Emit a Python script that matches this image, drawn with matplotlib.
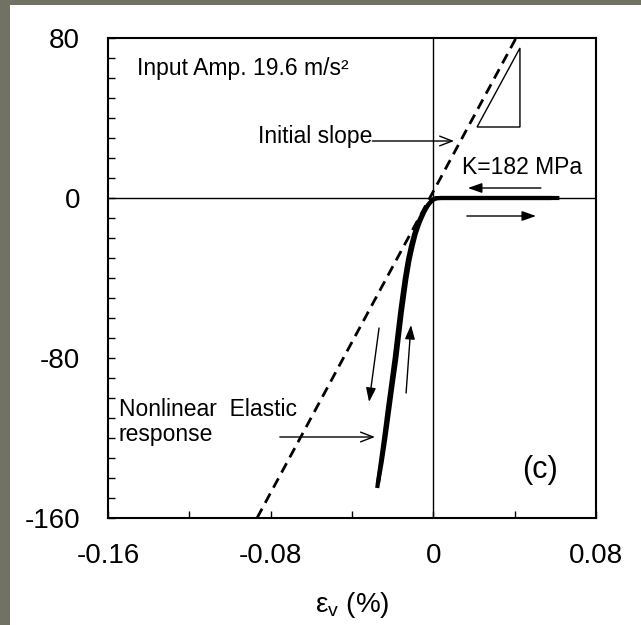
import matplotlib
matplotlib.use("Agg")
import matplotlib.pyplot as plt
from matplotlib.patches import Rectangle, Polygon

plt.rcParams['font.family'] = ['Liberation Sans', 'DejaVu Sans']
plt.rcParams['mathtext.fontset'] = 'custom'
plt.rcParams['mathtext.rm'] = 'Liberation Sans'
plt.rcParams['mathtext.it'] = 'Liberation Sans:italic'

# ---- data ----
# loading branch (from positive strain side, down to compression)
load_x = [0.062, 0.03, 0.01, 0.004, 0.002, 0.0008, -0.0002, -0.0012, -0.0024, -0.0037,
          -0.0050, -0.0064, -0.0079, -0.0094, -0.0110, -0.0125, -0.0140, -0.0151,
          -0.0163, -0.0176, -0.0190, -0.0207, -0.0223, -0.0242, -0.0258, -0.0276]
load_y = [0, 0, 0, 0, -0.1, -0.4, -1.0, -1.9, -3.2, -5, -7.3, -10, -13.5, -18, -24,
          -31, -40, -48, -57, -68, -80, -93, -105, -120, -132, -145]
# unloading branch
unload_x = [-0.0273, -0.0254, -0.0236, -0.0216, -0.0200, -0.0182, -0.0168, -0.0155,
            -0.0143, -0.0132, -0.0117, -0.0102, -0.0087, -0.0072, -0.0058, -0.0046,
            -0.0034, -0.0023, -0.0013, -0.0005, 0.0003, 0.0012, 0.003, 0.01, 0.03, 0.058]
unload_y = [-143, -132, -120, -105, -93, -80, -68, -57, -48, -40, -31, -24, -18, -13.5,
            -10, -7.3, -5, -3.2, -1.9, -1.0, -0.4, -0.1, 0, 0, 0, 0]
# initial slope line
slope_x = [-0.0867, 0.0407]
slope_y = [-160, 80]
# slope triangle
tri_x = [0.0426, 0.0215, 0.0426]
tri_y = [75, 35.5, 35.5]

x_ticks = [-0.16, -0.08, 0, 0.08]
x_ticklabels = ['-0.16', '-0.08', '0', '0.08']
y_ticks = [80, 0, -80, -160]
y_ticklabels = ['80', '0', '-80', '-160']

W, H = 641, 625
fig = plt.figure(figsize=(W / 100, H / 100), dpi=100)
fig.patch.set_facecolor('#727264')
bg = Rectangle((10 / W, 0), 1 - 10 / W, 1 - 5 / H,
               transform=fig.transFigure, facecolor='white',
               edgecolor='none', zorder=-10)
fig.patches.append(bg)

ax = fig.add_axes([108 / W, 1 - 518 / H, 488 / W, 480 / H])
ax.set_zorder(1)
ax.set_facecolor('white')
ax.set_xlim(-0.16, 0.08)
ax.set_ylim(-160, 80)

ax.axhline(0, color='black', lw=1.0, zorder=1)
ax.axvline(0, color='black', lw=1.0, zorder=1)

ax.plot(slope_x, slope_y, color='black', lw=2.0, dashes=(3.8, 2.4), zorder=3)
ax.plot(load_x, load_y, color='black', lw=3.0, solid_capstyle='butt',
        solid_joinstyle='round', zorder=4)
ax.plot(unload_x, unload_y, color='black', lw=3.0, solid_capstyle='butt',
        solid_joinstyle='round', zorder=4)

ax.add_patch(Polygon(list(zip(tri_x, tri_y)), closed=True, fill=False,
                     edgecolor='black', lw=1.0, zorder=3))

fs = 16.5
ax.text(-0.1457, 65, 'Input Amp. 19.6 m/s²', fontsize=fs, va='center', ha='left')
ax.text(-0.0863, 30.5, 'Initial slope', fontsize=fs, va='center', ha='left')
ax.text(0.0141, 15.5, 'K=182 MPa', fontsize=fs, va='center', ha='left')
ax.text(-0.1547, -106, 'Nonlinear  Elastic', fontsize=fs, va='center', ha='left')
ax.text(-0.1547, -118.5, 'response', fontsize=fs, va='center', ha='left')
ax.text(0.0525, -136, '(c)', fontsize=22, va='center', ha='center')

open_arrow = dict(arrowstyle='->,head_length=0.9,head_width=0.35', color='black', lw=1.0,
                  shrinkA=0, shrinkB=0)
filled_arrow = dict(arrowstyle='-|>,head_length=0.85,head_width=0.3', color='black',
                    lw=1.0, shrinkA=0, shrinkB=0, fc='black')

ax.annotate('', xy=(0.0102, 28.5), xytext=(-0.030, 28.5), arrowprops=open_arrow)
ax.annotate('', xy=(-0.0287, -119.5), xytext=(-0.0755, -119.5), arrowprops=open_arrow)
ax.annotate('', xy=(0.017, 5), xytext=(0.0529, 5), arrowprops=filled_arrow)
ax.annotate('', xy=(0.0505, -9), xytext=(0.0165, -9), arrowprops=filled_arrow)
ax.annotate('', xy=(-0.0316, -102), xytext=(-0.0267, -65), arrowprops=filled_arrow)
ax.annotate('', xy=(-0.011, -63.5), xytext=(-0.0134, -97.5), arrowprops=filled_arrow)

ax.set_xticks(x_ticks)
ax.set_xticklabels(x_ticklabels)
ax.set_yticks(y_ticks)
ax.set_yticklabels(y_ticklabels)
ax.set_xticks([-0.12, -0.04, 0.04], minor=True)
ax.set_yticks([v for v in range(-150, 80, 10) if v % 80 != 0], minor=True)
ax.tick_params(which='both', direction='in', length=5, width=1.0, color='black')
ax.tick_params(axis='x', which='major', labelsize=20, pad=18)
ax.tick_params(axis='y', which='major', labelsize=20, pad=20)
ax.tick_params(which='both', top=False, right=False)
for s in ax.spines.values():
    s.set_linewidth(1.5)
    s.set_color('black')

ax.set_xlabel(r'$\mathrm{ε_v}$ (%)', fontsize=20, labelpad=15)

fig.savefig('out.png', dpi=100, facecolor=fig.get_facecolor())
